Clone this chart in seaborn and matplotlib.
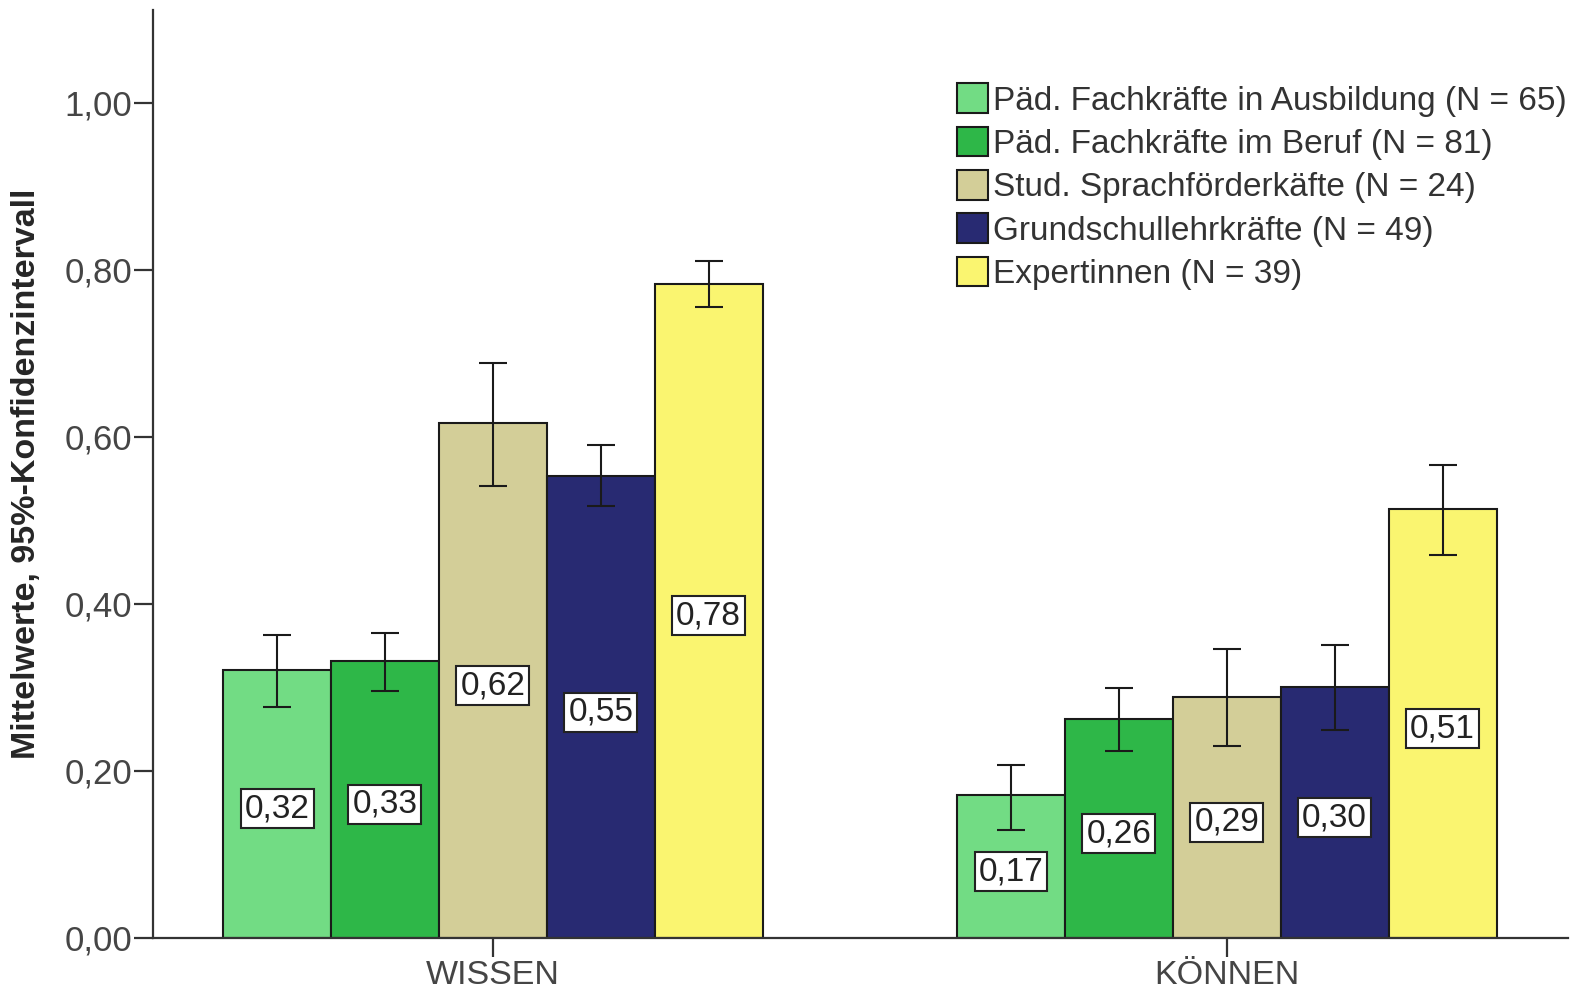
import numpy as np
import pandas as pd
import matplotlib
matplotlib.use('agg')
import matplotlib.pyplot as plt
import seaborn as sns

# data
skills = ['WISSEN', 'KÖNNEN']
groups = ['Päd. Fachkräfte in Ausbildung (N = 65)',
          'Päd. Fachkräfte im Beruf (N = 81)',
          'Stud. Sprachförderkäfte (N = 24)',
          'Grundschullehrkräfte (N = 49)',
          'Expertinnen (N = 39)']
wissen_mean = [0.321, 0.332, 0.616, 0.553, 0.783]
wissen_lo = [0.277, 0.296, 0.541, 0.517, 0.755]
wissen_hi = [0.363, 0.365, 0.688, 0.590, 0.810]
koennen_mean = [0.171, 0.262, 0.289, 0.300, 0.513]
koennen_lo = [0.129, 0.224, 0.230, 0.249, 0.458]
koennen_hi = [0.207, 0.299, 0.346, 0.351, 0.566]
colors = ['#72DC84', '#2EB748', '#D3CE98', '#282A72', '#FAF570']

rows = []
for g, wm, wl, wh, km, kl, kh in zip(groups, wissen_mean, wissen_lo, wissen_hi,
                                     koennen_mean, koennen_lo, koennen_hi):
    rows.append({'skill': 'WISSEN', 'group': g, 'mean': wm, 'lo': wl, 'hi': wh})
    rows.append({'skill': 'KÖNNEN', 'group': g, 'mean': km, 'lo': kl, 'hi': kh})
df = pd.DataFrame(rows)

sns.set_style('white')
plt.rcParams['font.family'] = ['Liberation Sans', 'DejaVu Sans']

fig = plt.figure(figsize=(15.78, 9.91), dpi=100)
ax = fig.add_axes([0.097, 0.0535, 0.8967, 0.9364])

sns.barplot(data=df, x='skill', y='mean', hue='group', order=skills,
            hue_order=groups, palette=colors, width=0.735, errorbar=None,
            edgecolor='#1a1a1a', linewidth=1.5, saturation=1, ax=ax)

# error bars and value boxes
for cont, g in zip(ax.containers, groups):
    sub = df[df.group == g].set_index('skill').loc[skills]
    for bar, (_, r) in zip(cont, sub.iterrows()):
        xc = bar.get_x() + bar.get_width() / 2
        ax.errorbar(xc, r['mean'], yerr=[[r['mean'] - r['lo']], [r['hi'] - r['mean']]],
                    fmt='none', ecolor='#1a1a1a', elinewidth=1.5, capsize=10, capthick=1.5)
        ax.text(xc, r['mean'] / 2 - 0.006, f"{r['mean']:.2f}".replace('.', ','),
                ha='center', va='center', fontsize=24, color='#222222',
                bbox=dict(boxstyle='square,pad=0.12', fc='white', ec='#222222', lw=1.5))

ax.set_ylim(0, 1.111)
ax.set_xlim(-0.463, 1.465)
ax.set_yticks([0, 0.2, 0.4, 0.6, 0.8, 1.0])
ax.set_yticklabels(['0,00', '0,20', '0,40', '0,60', '0,80', '1,00'])
ax.set_xlabel('')
ax.set_ylabel('Mittelwerte, 95%-Konfidenzintervall', fontsize=24.5, fontweight='bold',
              family=['Liberation Sans Narrow', 'Liberation Sans'], labelpad=16)
ax.tick_params(axis='both', labelsize=25, labelcolor='#454545', length=14,
               width=1.6, color='#333333', direction='out', left=True, bottom=True)
ax.tick_params(axis='x', pad=1.5, labelsize=24.5)
ax.tick_params(axis='y', pad=1)
for s in ['top', 'right']:
    ax.spines[s].set_visible(False)
for s in ['left', 'bottom']:
    ax.spines[s].set_color('#333333')
    ax.spines[s].set_linewidth(1.6)

handles, labels = ax.get_legend_handles_labels()
for h in handles:
    h.set_edgecolor('#1a1a1a')
    h.set_linewidth(1.5)
ax.legend(handles, labels, loc='upper left', bbox_to_anchor=(0.568, 0.921),
          frameon=False, fontsize=24, handlelength=0.95, handleheight=1.0,
          handletextpad=0.15, labelspacing=0.3, borderpad=0, borderaxespad=0,
          labelcolor='#333333')

fig.savefig('out.png', dpi=100)
